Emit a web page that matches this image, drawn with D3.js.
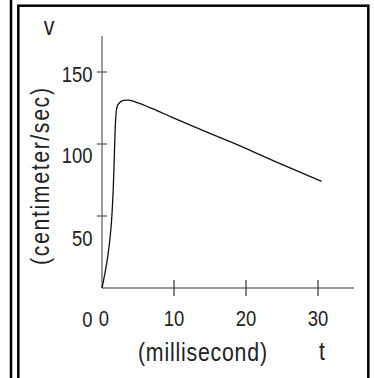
<!DOCTYPE html>
<html>
<head>
<meta charset="utf-8">
<script src="https://cdn.jsdelivr.net/npm/d3@7"></script>
<style>
  body { margin: 0; background: #fff; }
  svg { display: block; }
  text { font-family: "Liberation Sans", Arial, sans-serif; fill: #222; }
</style>
</head>
<body>
<div id="chart"></div>
<script>
// velocity curve (t in ms, v in cm/s)
const tValues = [0, 0.4, 0.8, 1.1, 1.3, 1.45, 1.57, 1.67, 1.76, 1.85, 1.95, 2.1, 2.4, 3.0, 3.7, 5, 7, 9.5, 13, 17.8, 24, 30.5];
const vValues = [0, 10, 22, 34, 45, 57, 70, 85, 100, 113, 121, 126, 128.5, 130.3, 130.5, 128.5, 124.5, 119, 111.5, 101.6, 88, 74];

const xTicks = [10, 20, 30];
const xTickLabels = ["0", "10", "20", "30"];
const xLabelAt = [0.25, 10, 20, 30];

const yTicks = [50, 100, 150];
const yTickLabels = ["0", "50", "100", "150"];
// the labels sit a bit below their ticks in the original
const yLabelAt = [-21.5, 34.5, 92.5, 148.5];

const width = 374, height = 378;
const narrow = 0.82;   // squeeze Liberation Sans into a condensed look

const svg = d3.select("#chart")
    .append("svg")
    .attr("width", width)
    .attr("height", height);

// frames
svg.append("line")
    .attr("x1", 11).attr("x2", 11)
    .attr("y1", 0).attr("y2", height)
    .attr("stroke", "#000").attr("stroke-width", 2.5);
svg.append("rect")
    .attr("x", 18.3).attr("y", 5.7)
    .attr("width", 350).attr("height", 400)
    .attr("fill", "none")
    .attr("stroke", "#000").attr("stroke-width", 2.5);

const x = d3.scaleLinear().domain([0, 35]).range([102, 354]);
const y = d3.scaleLinear().domain([0, 175]).range([288, 36]);

function label(px, py, str, size, anchor, rot) {
    const t = svg.append("text")
        .attr("transform", `translate(${px},${py})` + (rot ? ` rotate(${rot})` : "") + ` scale(${narrow},1)`)
        .attr("text-anchor", anchor)
        .style("font-size", size + "px")
        .text(str);
    return t;
}

// axes lines
svg.append("line")
    .attr("x1", x(0)).attr("x2", x(35))
    .attr("y1", y(0)).attr("y2", y(0))
    .attr("stroke", "#333").attr("stroke-width", 1.2);
svg.append("line")
    .attr("x1", x(0)).attr("x2", x(0))
    .attr("y1", y(0)).attr("y2", y(175))
    .attr("stroke", "#555").attr("stroke-width", 1.2);

// ticks crossing the axes
svg.selectAll("line.xtick")
    .data(xTicks)
    .enter().append("line")
    .attr("class", "xtick")
    .attr("x1", d => x(d)).attr("x2", d => x(d))
    .attr("y1", y(0) - 8).attr("y2", y(0) + 8)
    .attr("stroke", "#333").attr("stroke-width", 1.2);

svg.selectAll("line.ytick")
    .data(yTicks)
    .enter().append("line")
    .attr("class", "ytick")
    .attr("x1", x(0) - 5).attr("x2", x(0) + 5)
    .attr("y1", d => y(d)).attr("y2", d => y(d))
    .attr("stroke", "#555").attr("stroke-width", 1.2);

// tick labels
xTickLabels.forEach((d, i) => label(x(xLabelAt[i]), 326, d, 22.5, "middle"));
yTickLabels.forEach((d, i) => label(92.5, y(yLabelAt[i]) + 8, d, 22.5, "end"));

// axis titles
label(138, 361, "(millisecond)", 26, "start")
    .attr("textLength", 129 / narrow)
    .attr("lengthAdjust", "spacing");
label(322, 360, "t", 26, "middle");
label(49, 35, "v", 26, "middle");
label(49, 265, "(centimeter/sec)", 26, "start", -90)
    .attr("textLength", 177 / narrow)
    .attr("lengthAdjust", "spacing");

// the curve
const points = tValues.map((t, i) => [t, vValues[i]]);
const line = d3.line()
    .x(d => x(d[0]))
    .y(d => y(d[1]))
    .curve(d3.curveMonotoneX);

svg.append("path")
    .datum(points)
    .attr("d", line)
    .attr("fill", "none")
    .attr("stroke", "#111")
    .attr("stroke-width", 1.3);
</script>
</body>
</html>
